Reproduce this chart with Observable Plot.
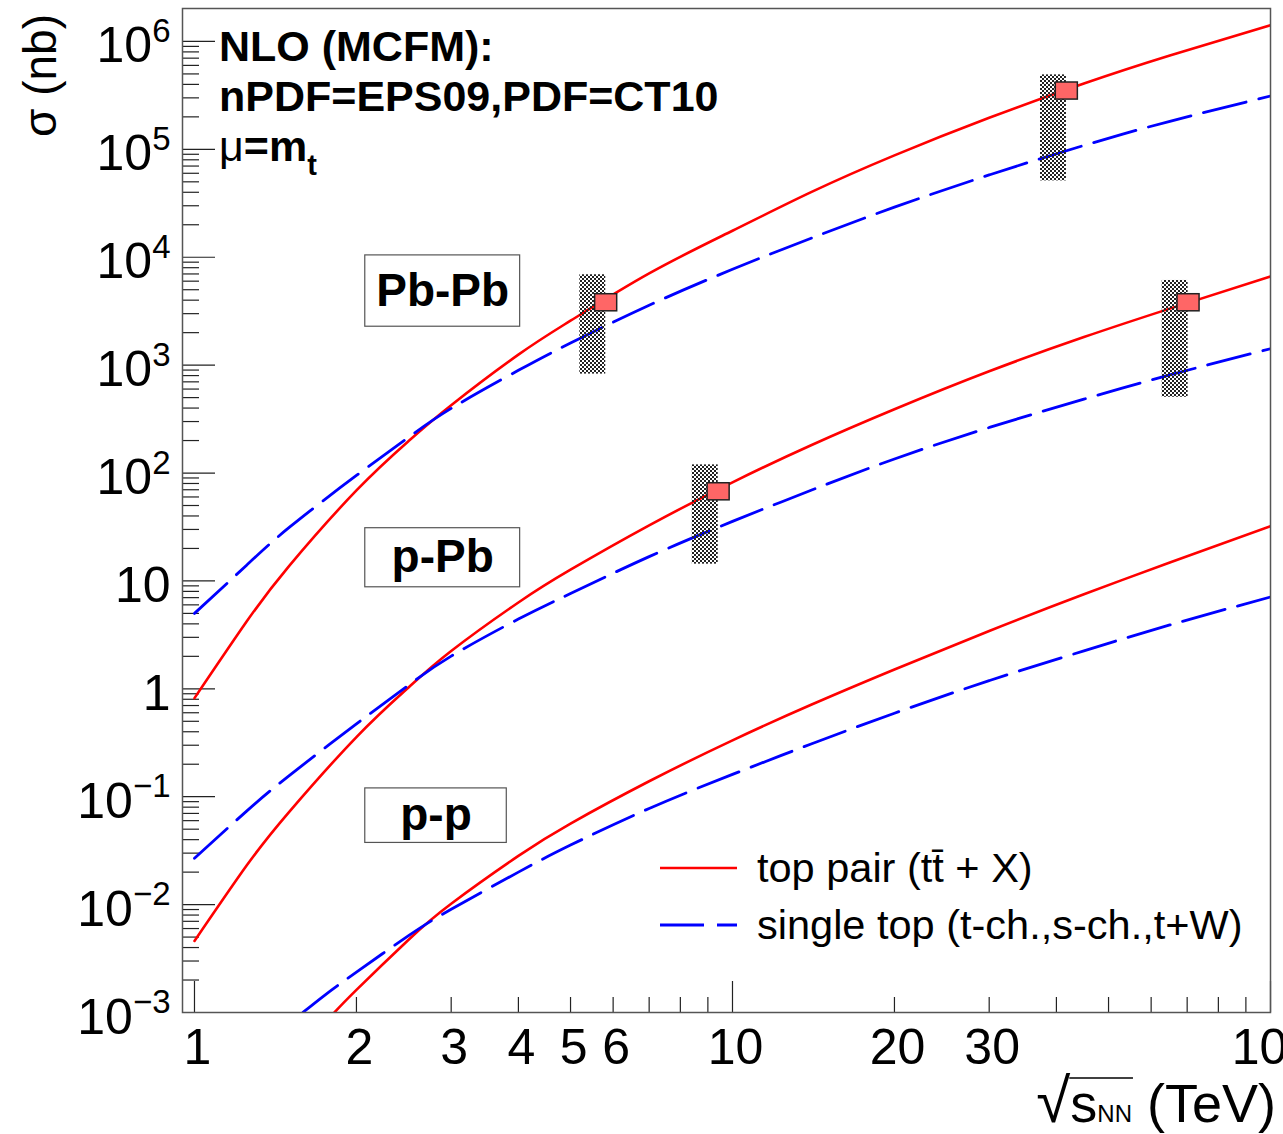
<!DOCTYPE html>
<html><head><meta charset="utf-8">
<script src="https://cdn.jsdelivr.net/npm/d3@7"></script>
<script src="https://cdn.jsdelivr.net/npm/@observablehq/plot@0.6"></script>
<style>
html,body{margin:0;padding:0;background:#fff;}
#chart{width:1283px;height:1134px;overflow:hidden;position:relative;}
#chart svg{font-family:"Liberation Sans",Arial,Helvetica,sans-serif;}
</style></head><body><div id="chart"></div>
<script>
// ---- data (cross sections in nb vs sqrt(s_NN) in TeV) ----
const energy = [1, 1.25, 1.5, 2, 2.5, 3, 4, 5, 7, 10, 14, 20, 30, 45, 65, 100];
const pbpbTopPair = [0.82, 4.2, 13.8, 69, 198, 425, 1250, 2580, 7080, 17600, 40100, 87900, 196000, 407000, 740000, 1413000];
const pbpbSingleTop = [5.0, 14.0, 31.3, 94.9, 214, 397, 895, 1600, 3590, 7730, 15000, 29100, 57900, 108600, 182000, 312000];
const ppbTopPair = [0.0046, 0.023, 0.0724, 0.357, 1.03, 2.24, 6.31, 12.7, 32.7, 82.0, 181, 390, 877, 1820, 3340, 6650];
const ppbSingleTop = [0.0269, 0.0735, 0.157, 0.473, 1.08, 2.01, 4.43, 7.64, 16.8, 35.6, 69.2, 135, 264, 484, 811, 1419];
const ppEnergyTopPair = [1.82, 2, 2.5, 3, 4, 5, 7, 10, 14, 20, 30, 45, 65, 100];
const ppTopPair = [0.001, 0.00162, 0.00473, 0.0102, 0.0283, 0.0564, 0.139, 0.333, 0.711, 1.51, 3.44, 7.52, 14.8, 32.1];
const ppEnergySingleTop = [1.59, 1.75, 2, 2.5, 3, 4, 5, 7, 10, 14, 20, 30, 45, 65, 100];
const ppSingleTop = [0.001, 0.00146, 0.00237, 0.00516, 0.00906, 0.0200, 0.0356, 0.0778, 0.161, 0.308, 0.594, 1.19, 2.25, 3.91, 7.09];

// projected measurements (band = range, marker = value)
const bandEnergy = [5.5, 8.9, 39.5, 66.5];
const bandLow = [826, 14.3, 51000, 504];
const bandHigh = [6880, 119, 490000, 6090];
const markerValue = [3785, 67, 347000, 3785];

// system labels
const systemLabels = ["Pb-Pb", "p-Pb", "p-p"];

// ticks
const xLabelTicks = [1, 2, 3, 4, 5, 6, 10, 20, 30, 100];
const xMajorTicks = [1, 10, 100];
const xMinorTicks = [2, 3, 4, 5, 6, 7, 8, 9, 20, 30, 40, 50, 60, 70, 80, 90];
const yMajorTicks = [1e-3, 1e-2, 1e-1, 1, 10, 1e2, 1e3, 1e4, 1e5, 1e6];
const yTickLabels = ["10^−3", "10^−2", "10^−1", "1", "10", "10^2", "10^3", "10^4", "10^5", "10^6"];
const yMinorMultipliers = [2, 3, 4, 5, 6, 7, 8, 9];
const yMinorTicks = yMajorTicks.slice(0, -1).flatMap(d => yMinorMultipliers.map(m => d * m));

const legendLabels = ["top pair (t\u0074\u0304 + X)", "single top (t-ch.,s-ch.,t+W)"];

// ---- build rows ----
const curves = [
  {id: "pbpb-top", kind: "top", e: energy, v: pbpbTopPair},
  {id: "pbpb-single", kind: "single", e: energy, v: pbpbSingleTop},
  {id: "ppb-top", kind: "top", e: energy, v: ppbTopPair},
  {id: "ppb-single", kind: "single", e: energy, v: ppbSingleTop},
  {id: "pp-top", kind: "top", e: ppEnergyTopPair, v: ppTopPair},
  {id: "pp-single", kind: "single", e: ppEnergySingleTop, v: ppSingleTop}
];
const rows = curves.flatMap(c => c.e.map((e, i) => ({e, v: c.v[i], id: c.id, kind: c.kind})));
const bands = bandEnergy.map((e, i) => ({e, lo: bandLow[i], hi: bandHigh[i], m: markerValue[i]}));

const FRAME_W = 1283 - 182 - 13, FRAME_H = 1134 - 8 - 122;

const boxes = [
  {label: systemLabels[0], x1: 2.077, x2: 4.03, y1: 2270, y2: 10400, ty: 4840},
  {label: systemLabels[1], x1: 2.077, x2: 4.03, y1: 8.73, y2: 30.8, ty: 16.4},
  {label: systemLabels[2], x1: 2.077, x2: 3.806, y1: 0.0373, y2: 0.1194, ty: 0.0671}
];

const plot = Plot.plot({
  width: 1283, height: 1134,
  marginLeft: 182, marginRight: 13, marginTop: 8, marginBottom: 122,
  style: {fontFamily: "Liberation Sans, Arial, Helvetica, sans-serif", background: "white", color: "black"},
  x: {type: "log", domain: [0.95, 100]},
  y: {type: "log", domain: [1e-3, 2.02e6]},
  marks: [
    () => {
      const defs = d3.create("svg:defs");
      const p = defs.append("pattern").attr("id", "checker").attr("width", 4).attr("height", 4).attr("patternUnits", "userSpaceOnUse");
      p.append("rect").attr("width", 2).attr("height", 2).attr("fill", "#222");
      p.append("rect").attr("x", 2).attr("y", 2).attr("width", 2).attr("height", 2).attr("fill", "#222");
      return defs.node();
    },
    // ticks inside the frame
    Plot.tickX(xMinorTicks, {x: d => d, insetTop: FRAME_H - 15, stroke: "#222", strokeWidth: 1.2}),
    Plot.tickX(xMajorTicks, {x: d => d, insetTop: FRAME_H - 31, stroke: "#222", strokeWidth: 1.2}),
    Plot.tickY(yMinorTicks, {y: d => d, insetRight: FRAME_W - 17, stroke: "#222", strokeWidth: 1.2}),
    Plot.tickY(yMajorTicks, {y: d => d, insetRight: FRAME_W - 33, stroke: "#222", strokeWidth: 1.2}),
    Plot.axisX(xLabelTicks, {tickSize: 0, tickPadding: 16, fontSize: 50, dx: 3, tickFormat: d => String(d), label: null}),
    Plot.axisY(yMajorTicks, {tickSize: 0, tickPadding: 12, fontSize: 50, dy: 5, tickFormat: d => yTickLabels[yMajorTicks.indexOf(d)], label: null}),
    // curves
    Plot.line(rows.filter(d => d.kind === "top"), {x: "e", y: "v", z: "id", stroke: "#ff0000", strokeWidth: 2.6, curve: "natural", clip: true}),
    Plot.line(rows.filter(d => d.kind === "single"), {x: "e", y: "v", z: "id", stroke: "#0000ff", strokeWidth: 2.8, strokeDasharray: "44,13", curve: "natural", clip: true}),
    // projection bands and markers
    Plot.rect(bands, {x1: d => d.e / 1.057, x2: d => d.e * 1.057, y1: "lo", y2: "hi", fill: "url(#checker)"}),
    Plot.rect(bands, {x1: d => d.e * 1.01, x2: d => d.e * 1.11, y1: d => d.m / 1.2, y2: d => d.m * 1.2, fill: "#ff6666", stroke: "#222", strokeWidth: 1.5}),
    // system label boxes
    Plot.rect(boxes, {x1: "x1", x2: "x2", y1: "y1", y2: "y2", fill: "white", stroke: "#555", strokeWidth: 1.2}),
    Plot.text(boxes, {x: d => Math.sqrt(d.x1 * d.x2), y: "ty", text: "label", fontSize: 46, fontWeight: "bold", fill: "black"}),
    Plot.frame({stroke: "#555", strokeWidth: 1.5})
  ]
});

document.getElementById("chart").appendChild(plot);
const svg = d3.select(plot);

// superscripts for y tick labels
svg.selectAll('g[aria-label="y-axis tick label"] text').each(function() {
  const t = d3.select(this);
  const s = t.text();
  if (s.includes("^")) {
    const [base, exp] = s.split("^");
    t.text(null);
    t.append("tspan").text(base);
    t.append("tspan").attr("font-size", 33).attr("dy", "-0.62em").text(exp);
  }
});

// y-axis title
svg.append("text")
  .attr("transform", "translate(56,14) rotate(-90)")
  .attr("text-anchor", "end").attr("font-size", 46).attr("fill", "black")
  .text("σ (nb)");

// x-axis title
const xt = svg.append("text").attr("x", 1276).attr("y", 1122).attr("text-anchor", "end").attr("font-size", 54).attr("fill", "black");
xt.append("tspan").attr("font-size", 62).attr("font-weight", 100).text("√");
xt.append("tspan").text("s");
xt.append("tspan").attr("font-size", 24).text("NN");
xt.append("tspan").text(" (TeV)");
const xtn = xt.node();
const ovStart = xtn.getEndPositionOfChar(0).x;
const ovEnd = xtn.getEndPositionOfChar(3).x;
svg.append("line").attr("x1", ovStart - 1).attr("x2", ovEnd + 1).attr("y1", 1078).attr("y2", 1078).attr("stroke", "black").attr("stroke-width", 1.5);

// top-left annotation
const ann = svg.append("g").attr("font-weight", "bold").attr("font-size", 43).attr("fill", "black").attr("text-anchor", "start");
ann.append("text").attr("x", 219).attr("y", 61).text("NLO (MCFM):");
ann.append("text").attr("x", 219).attr("y", 111).text("nPDF=EPS09,PDF=CT10");
const mu = ann.append("text").attr("x", 219).attr("y", 161);
mu.append("tspan").attr("font-weight", "normal").text("μ");
mu.append("tspan").text("=m");
mu.append("tspan").attr("font-size", 29).attr("dy", 14).text("t");

// legend
const leg = svg.append("g").attr("text-anchor", "start");
leg.append("line").attr("x1", 660).attr("x2", 737).attr("y1", 868).attr("y2", 868).attr("stroke", "#ff0000").attr("stroke-width", 2.6);
leg.append("line").attr("x1", 660).attr("x2", 737).attr("y1", 925).attr("y2", 925).attr("stroke", "#0000ff").attr("stroke-width", 2.8).attr("stroke-dasharray", "44,13");
leg.append("text").attr("x", 757).attr("y", 882).attr("font-size", 41.5).attr("fill", "black").text(legendLabels[0]);
leg.append("text").attr("x", 757).attr("y", 939).attr("font-size", 41.5).attr("fill", "black").text(legendLabels[1]);
</script></body></html>
